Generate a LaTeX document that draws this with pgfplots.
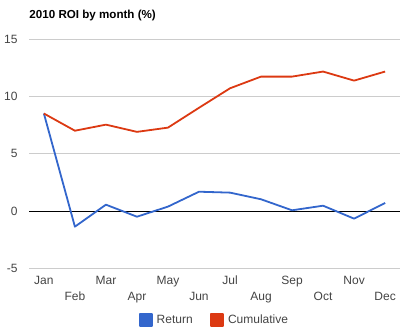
\documentclass[border=0pt]{standalone}
\usepackage{pgfplots}
\pgfplotsset{compat=1.18}
\usepackage{fontspec}
\setmainfont{Liberation Sans}
\definecolor{gblue}{HTML}{3366CC}
\definecolor{gred}{HTML}{DC3912}
\definecolor{glabel}{HTML}{444444}
\definecolor{ggrid}{HTML}{CCCCCC}
\begin{document}
\begin{tikzpicture}[x=1bp,y=1bp]
\useasboundingbox (0,0) rectangle (408,331);
\node[anchor=base west, inner sep=0pt, font=\bfseries\fontsize{11.6bp}{13bp}\selectfont] at (29.3,312.7) {2010 ROI by month (\%)};
\begin{axis}[
  at={(29bp,62.7bp)}, anchor=south west,
  scale only axis, width=371bp, height=229.3bp,
  xmin=-0.48, xmax=11.48, ymin=-5, ymax=15,
  axis line style={draw=none},
  major tick length=0pt,
  ytick={-5,0,5,10,15},
  ymajorgrids, grid style={ggrid, line width=0.8bp},
  extra y ticks={0}, extra y tick labels={},
  extra y tick style={grid style={black, line width=0.8bp}},
  xtick={0,2,4,6,8,10},
  xticklabels={Jan,Mar,May,Jul,Sep,Nov},
  extra x ticks={1,3,5,7,9,11},
  extra x tick labels={Feb,Apr,Jun,Aug,Oct,Dec},
  extra x tick style={xticklabel style={yshift=-16bp}},
  xticklabel style={anchor=base, yshift=-16.5bp, text=glabel, font=\fontsize{12bp}{14bp}\selectfont},
  yticklabel style={anchor=east, xshift=-8bp, text=glabel, font=\fontsize{12bp}{14bp}\selectfont},
  /pgf/number format/assume math mode=true,
  legend style={at={(0.5,-0.2255)}, anchor=center, draw=none, fill=none,
    legend columns=2, font=\fontsize{12bp}{14bp}\selectfont, text=glabel,
    /tikz/every odd column/.append style={column sep=2bp},
    /tikz/every even column/.append style={column sep=15.5bp}},
  legend image code/.code={\fill[#1] (0bp,-6bp) rectangle (12bp,6bp);},
  every axis plot/.append style={line width=1.8bp, mark=none, line join=round},
]
\addplot[gblue] coordinates {(0,8.5) (1,-1.37) (2,0.55) (3,-0.5) (4,0.38) (5,1.68) (6,1.6) (7,1.02) (8,0.06) (9,0.46) (10,-0.67) (11,0.7)};
\addlegendentry{Return}
\addplot[gred] coordinates {(0,8.5) (1,7.0) (2,7.53) (3,6.9) (4,7.27) (5,9.0) (6,10.7) (7,11.72) (8,11.72) (9,12.16) (10,11.37) (11,12.16)};
\addlegendentry{Cumulative}
\end{axis}
\end{tikzpicture}
\end{document}
